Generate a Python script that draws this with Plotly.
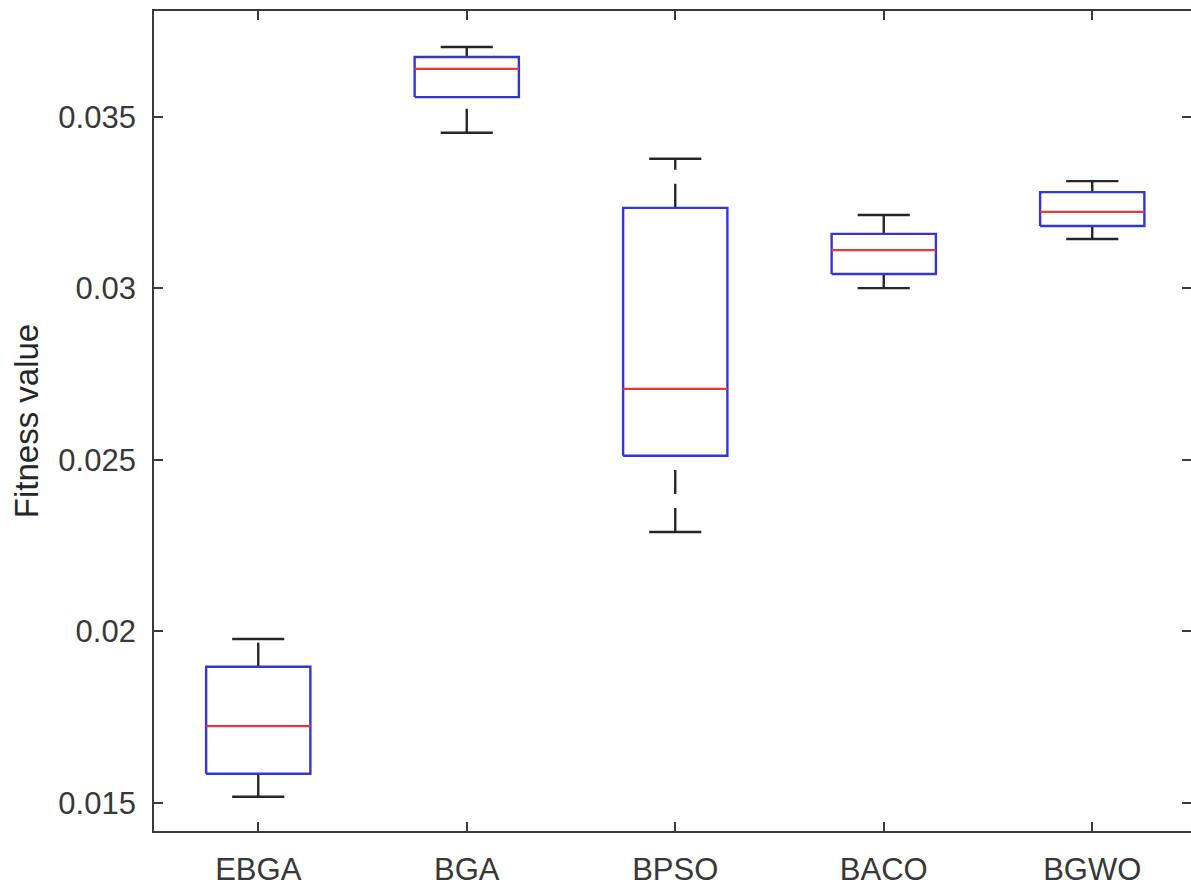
import plotly.graph_objects as go

# ---- data ----
algorithms = ["EBGA", "BGA", "BPSO", "BACO", "BGWO"]
lower_whisker = [0.01518, 0.03454, 0.02290, 0.03001, 0.03144]
q1 = [0.01585, 0.03558, 0.02512, 0.03042, 0.03182]
median = [0.01724, 0.03640, 0.02707, 0.03112, 0.03223]
q3 = [0.01897, 0.03675, 0.03235, 0.03159, 0.03281]
upper_whisker = [0.01978, 0.03704, 0.03378, 0.03214, 0.03313]
y_ticks = [0.015, 0.02, 0.025, 0.03, 0.035]

positions = list(range(1, len(algorithms) + 1))
BOX_HALF = 0.25
CAP_HALF = 0.125

box_x, box_y = [], []
med_x, med_y = [], []
wh_x, wh_y = [], []
cap_x, cap_y = [], []
for p, lw, a, m, b, uw in zip(positions, lower_whisker, q1, median, q3, upper_whisker):
    box_x += [p - BOX_HALF, p + BOX_HALF, p + BOX_HALF, p - BOX_HALF, p - BOX_HALF, None]
    box_y += [a, a, b, b, a, None]
    med_x += [p - BOX_HALF, p + BOX_HALF, None]
    med_y += [m, m, None]
    wh_x += [p, p, None, p, p, None]
    wh_y += [lw, a, None, b, uw, None]
    cap_x += [p - CAP_HALF, p + CAP_HALF, None, p - CAP_HALF, p + CAP_HALF, None]
    cap_y += [lw, lw, None, uw, uw, None]

fig = go.Figure()
fig.add_trace(go.Scatter(x=wh_x, y=wh_y, mode="lines",
                         line=dict(color="#262626", width=2.4, dash="24px,14px"),
                         showlegend=False, hoverinfo="skip"))
fig.add_trace(go.Scatter(x=cap_x, y=cap_y, mode="lines",
                         line=dict(color="#262626", width=2.4),
                         showlegend=False, hoverinfo="skip"))
fig.add_trace(go.Scatter(x=box_x, y=box_y, mode="lines",
                         line=dict(color="#3535d0", width=2.4),
                         showlegend=False, hoverinfo="skip"))
fig.add_trace(go.Scatter(x=med_x, y=med_y, mode="lines",
                         line=dict(color="#e8383b", width=2.2),
                         showlegend=False, hoverinfo="skip"))

axis_color = "#3a3a3a"
font_family = "Liberation Sans, Arial, sans-serif"

fig.update_layout(
    width=1191, height=888,
    margin=dict(l=154, r=0, t=11, b=57),
    paper_bgcolor="white", plot_bgcolor="white",
    font=dict(family=font_family, size=31, color="#383838"),
    showlegend=False,
)
fig.update_xaxes(
    range=[0.5, 0.5 + 1037 / 208.5],
    tickmode="array", tickvals=positions, ticktext=algorithms,
    tickfont=dict(size=31),
    ticks="inside", ticklen=9, tickwidth=1.6, tickcolor=axis_color,
    showline=True, linecolor=axis_color, linewidth=1.8, mirror="ticks",
    showgrid=False, zeroline=False,
    ticklabelstandoff=10, automargin=False,
)
fig.update_yaxes(
    range=[0.01418, 0.03809],
    tickmode="array", tickvals=y_ticks,
    tickfont=dict(size=31),
    ticks="inside", ticklen=9, tickwidth=1.6, tickcolor=axis_color,
    showline=True, linecolor=axis_color, linewidth=1.8, mirror="ticks",
    showgrid=False, zeroline=False,
    ticklabelstandoff=10, automargin=False,
    title=dict(text="Fitness value", standoff=10,
               font=dict(family=font_family, size=33, color="#262626")),
)

fig.write_html("out.html")
